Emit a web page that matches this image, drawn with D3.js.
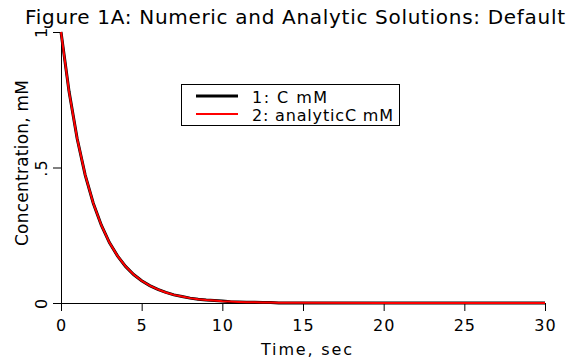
<!DOCTYPE html>
<html>
<head>
<meta charset="utf-8">
<script src="https://cdn.jsdelivr.net/npm/d3@7"></script>
<style>
  body { margin: 0; background: #fff; }
  svg { display: block; font-family: "DejaVu Sans", sans-serif; }
</style>
</head>
<body>
<script>
"use strict";

// values
const times = [0, 0.5, 1, 1.5, 2, 2.5, 3, 3.5, 4, 4.5, 5, 5.5, 6, 6.5, 7, 7.5, 8, 8.5, 9, 9.5,
               10, 10.5, 11, 11.5, 12, 12.5, 13, 13.5, 14, 15, 20, 25, 30];
const numericC = [1, 0.78, 0.607, 0.472, 0.368, 0.287, 0.223, 0.174, 0.135, 0.105, 0.082,
                  0.064, 0.05, 0.039, 0.03, 0.024, 0.018, 0.014, 0.011, 0.009, 0.007,
                  0.005, 0.004, 0.003, 0.0025, 0.002, 0.0015, 0, 0, 0, 0, 0, 0];
const analyticC = [1, 0.779, 0.607, 0.472, 0.368, 0.287, 0.223, 0.174, 0.135, 0.105, 0.082,
                   0.064, 0.05, 0.039, 0.03, 0.024, 0.018, 0.014, 0.011, 0.009, 0.0067,
                   0.0052, 0.0041, 0.0032, 0.0025, 0.0019, 0.0015, 0.0012, 0.0009, 0.0006,
                   0.00005, 0, 0];
const xTicks = [0, 5, 10, 15, 20, 25, 30];
const yTicks = [0, 0.5, 1];
const yTickLabels = ["0", ".5", "1"];
const seriesNames = ["1: C mM", "2: analyticC mM"];
const seriesColors = ["#000000", "#ff0000"];

const WIDTH = 581, HEIGHT = 359;
const svg = d3.select("body").append("svg")
    .attr("width", WIDTH)
    .attr("height", HEIGHT);

let x = d3.scaleLinear().domain([0, 30]).range([61, 545]);
let y = d3.scaleLinear().domain([0, 1]).range([303, 32]);

// title
svg.append("text")
    .attr("x", 25).attr("y", 24)
    .attr("font-size", 20)
    .attr("textLength", 540)
    .attr("lengthAdjust", "spacing")
    .text("Figure 1A: Numeric and Analytic Solutions: Default");

// x axis
let xAxis = svg.append("g")
    .attr("transform", "translate(0,303)")
    .call(d3.axisBottom(x).tickValues(xTicks).tickSize(8).tickPadding(9).tickSizeOuter(0));
xAxis.select(".domain").attr("d", "M53,0.5H545").attr("stroke", "#000");
xAxis.selectAll("text")
    .attr("font-size", 16).attr("font-family", "DejaVu Sans")
    .attr("letter-spacing", 1);

// y axis
let yAxis = svg.append("g")
    .attr("transform", "translate(61,0)")
    .call(d3.axisLeft(y).tickValues(yTicks).tickFormat((d, i) => yTickLabels[i])
          .tickSize(8).tickSizeOuter(0));
yAxis.select(".domain").attr("stroke", "#000");
yAxis.selectAll("text")
    .attr("font-size", 16).attr("font-family", "DejaVu Sans")
    .attr("letter-spacing", 1)
    .attr("transform", "rotate(-90)")
    .attr("x", 0).attr("y", -14)
    .attr("dy", 0)
    .attr("text-anchor", "middle");

// axis titles
svg.append("text")
    .attr("x", 261).attr("y", 355)
    .attr("font-size", 16)
    .attr("textLength", 91)
    .attr("lengthAdjust", "spacing")
    .text("Time, sec");

svg.append("text")
    .attr("transform", "translate(28,246) rotate(-90)")
    .attr("font-size", 17)
    .attr("textLength", 166)
    .attr("lengthAdjust", "spacing")
    .text("Concentration, mM");

// curves
let line = d3.line()
    .x((d, i) => x(times[i]))
    .y((d) => y(d));

svg.append("path")
    .datum(numericC)
    .attr("fill", "none")
    .attr("stroke", seriesColors[0])
    .attr("stroke-width", 3)
    .attr("d", line);

svg.append("path")
    .datum(analyticC)
    .attr("fill", "none")
    .attr("stroke", seriesColors[1])
    .attr("stroke-width", 2)
    .attr("d", line);

// legend
const legendLengths = [75, 141];
let legend = svg.append("g");
legend.append("rect")
    .attr("x", 181.5).attr("y", 84.5)
    .attr("width", 218).attr("height", 41)
    .attr("fill", "#fff").attr("stroke", "#000");

seriesNames.forEach((name, i) =>
{
    let ly = i == 0 ? 96 : 114;
    legend.append("line")
        .attr("x1", 196).attr("x2", 238)
        .attr("y1", ly).attr("y2", ly)
        .attr("stroke", seriesColors[i])
        .attr("stroke-width", i == 0 ? 3 : 2);
    legend.append("text")
        .attr("x", 252).attr("y", i == 0 ? 103 : 121)
        .attr("font-size", 16)
        .attr("textLength", legendLengths[i])
        .attr("lengthAdjust", "spacing")
        .text(name);
});
</script>
</body>
</html>
